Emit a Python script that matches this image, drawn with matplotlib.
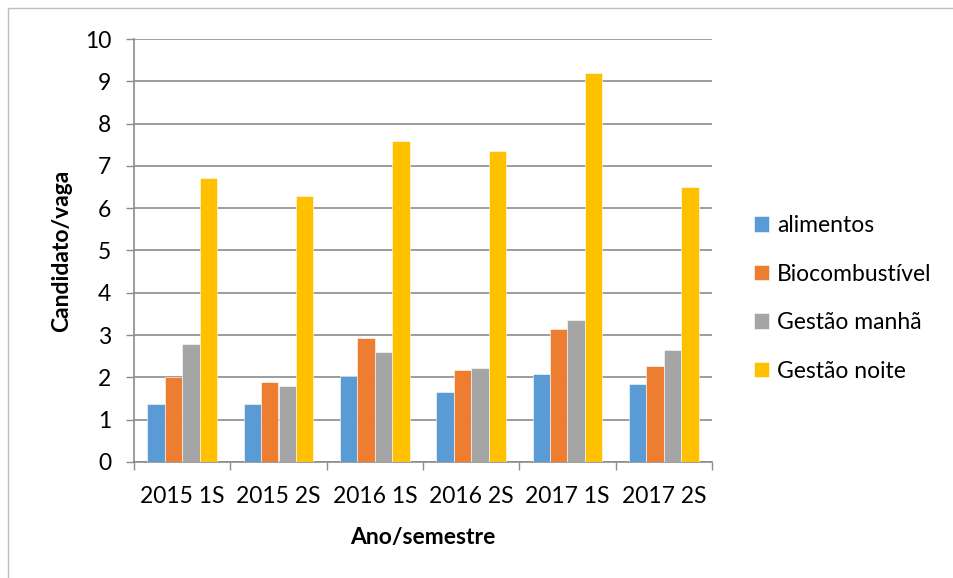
import numpy as np
import matplotlib
matplotlib.use('Agg')
import matplotlib.pyplot as plt
from matplotlib.patches import Rectangle

categorias = ['2015 1S', '2015 2S', '2016 1S', '2016 2S', '2017 1S', '2017 2S']
alimentos = [1.37, 1.37, 2.03, 1.65, 2.08, 1.84]
biocombustivel = [2.0, 1.90, 2.92, 2.18, 3.14, 2.27]
gestao_manha = [2.78, 1.80, 2.59, 2.23, 3.35, 2.65]
gestao_noite = [6.71, 6.30, 7.58, 7.36, 9.2, 6.5]
series = ['alimentos', 'Biocombustível', 'Gestão manhã', 'Gestão noite']
cores = ['#5B9BD5', '#ED7D31', '#A5A5A5', '#FFC000']

plt.rcParams['font.family'] = ['Lato', 'DejaVu Sans']
fs = 16.5

fig = plt.figure(figsize=(9.54, 5.78), dpi=100)
ax = fig.add_axes([134 / 954, 1 - 462 / 578, 578 / 954, 423 / 578])

# borda da área do gráfico
fig.patches.append(Rectangle((8 / 954, -0.1), 1.2, 1 - 8 / 578 + 0.1,
                             transform=fig.transFigure, fill=False,
                             edgecolor='#BFBFBF', linewidth=1))

x = np.arange(len(categorias))
w = 0.18
dados = [alimentos, biocombustivel, gestao_manha, gestao_noite]
for i, (vals, nome, cor) in enumerate(zip(dados, series, cores)):
    ax.bar(x + (i - 1.5) * w, vals, w, color=cor, label=nome,
           edgecolor='white', linewidth=0.4, zorder=3)

ax.set_xlim(-0.5, len(categorias) - 0.5)
ax.set_ylim(0, 10)
ax.set_yticks(np.arange(0, 11, 1))
ax.yaxis.grid(True, color='#8C8C8C', linewidth=1.2, zorder=0)
ax.set_axisbelow(True)

ax.set_xticks(x)
ax.set_xticklabels(categorias)
ax.set_xticks(np.arange(-0.5, len(categorias)), minor=True)
ax.tick_params(axis='x', which='major', length=0, pad=17, labelsize=fs)
ax.tick_params(axis='x', which='minor', length=5.5, color='#8C8C8C', width=1)
ax.tick_params(axis='y', length=5.5, color='#8C8C8C', width=1, labelsize=fs, pad=11)

for s in ['top', 'right']:
    ax.spines[s].set_visible(False)
for s in ['left', 'bottom']:
    ax.spines[s].set_color('#8C8C8C')
    ax.spines[s].set_linewidth(1.2)

ax.set_xlabel('Ano/semestre', fontsize=fs, fontweight='bold', labelpad=15)
ax.set_ylabel('Candidato/vaga', fontsize=fs, fontweight='bold', labelpad=9)

ax.legend(loc='center left', bbox_to_anchor=(1.057, 0.387), frameon=False,
          fontsize=fs, handlelength=0.65, handleheight=0.65, borderaxespad=0,
          labelspacing=1.2, handletextpad=0.35)

fig.savefig('out.png', dpi=100)
